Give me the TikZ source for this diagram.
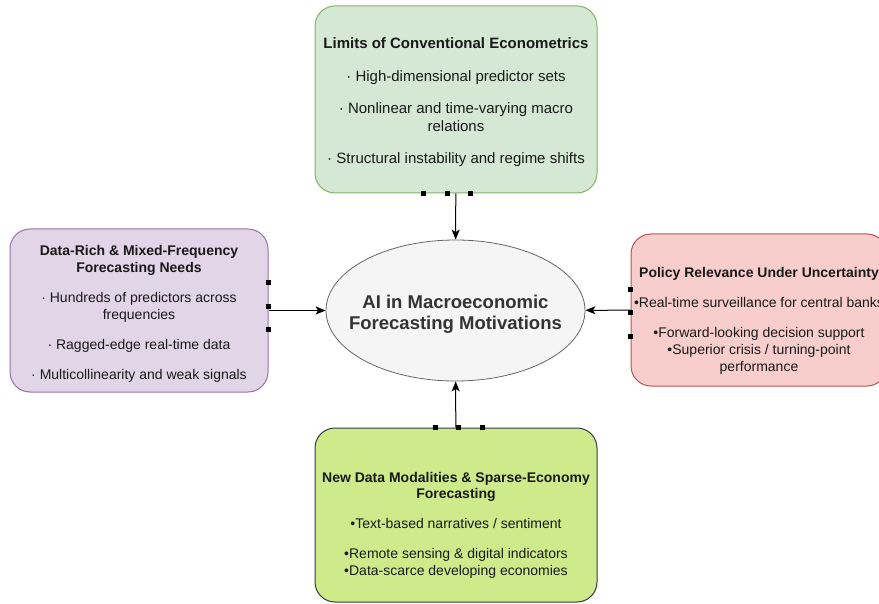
\documentclass[tikz,border=0pt]{standalone}
\usepackage{fontspec}
\setmainfont{Liberation Sans}
\usetikzlibrary{shapes.geometric, arrows.meta}

\definecolor{limitsfill}{HTML}{D5E8D4}
\definecolor{limitsdraw}{HTML}{82B366}
\definecolor{datafill}{HTML}{E1D5E7}
\definecolor{datadraw}{HTML}{9673A6}
\definecolor{policyfill}{HTML}{F8CECC}
\definecolor{policydraw}{HTML}{B85450}
\definecolor{modalfill}{HTML}{CDEB8B}
\definecolor{modaldraw}{HTML}{36393D}
\definecolor{corefill}{HTML}{F5F5F5}
\definecolor{coredraw}{HTML}{666666}
\definecolor{coretext}{HTML}{333333}

\begin{document}
\begin{tikzpicture}[x=1pt, y=-1pt, >={Stealth[length=10pt, width=8pt, inset=2.5pt]},
    font=\fontsize{14}{17}\selectfont,
    box/.style={draw, line width=1pt, rounded corners=20pt, inner sep=0pt},
    boxtext/.style={align=center, inner sep=0pt, text=black!90},
    handle/.style={fill=black, inner sep=0pt, minimum size=5pt},
    link/.style={->, line width=1pt}]

        \useasboundingbox (0,0) rectangle (879,604);
        \clip (0,0) rectangle (879,604);

        % Central Topic
        \node[draw=coredraw, fill=corefill, ellipse, line width=0.8pt,
              minimum width=259, minimum height=141, inner sep=0pt] (core) at (455.5,310.5) {};
        \node[boxtext, text=coretext,
              font=\fontsize{18.5}{21}\selectfont\bfseries] (core text) at (455.5,314.5)
              {AI in Macroeconomic\\Forecasting Motivations};

        % Top Box
        \node[box, draw=limitsdraw, fill=limitsfill,
              minimum width=282, minimum height=187] (limits) at (456,99.5) {};
        \node[boxtext, font=\fontsize{15}{18}\selectfont] (limits text) at (456,102)
              {\textbf{Limits of Conventional Econometrics}\\[15pt]
               · High-dimensional predictor sets\\[14pt]
               · Nonlinear and time-varying macro\\relations\\[14pt]
               · Structural instability and regime shifts};

        % Left Box
        \node[box, draw=datadraw, fill=datafill,
              minimum width=258, minimum height=163] (data) at (139,310.5) {};
        \node[boxtext] (data text) at (139,313.5)
              {\textbf{Data-Rich \& Mixed-Frequency}\\\textbf{Forecasting Needs}\\[13pt]
               · Hundreds of predictors across\\frequencies\\[13pt]
               · Ragged-edge real-time data\\[13pt]
               · Multicollinearity and weak signals};

        % Right Box
        \node[box, draw=policydraw, fill=policyfill,
              minimum width=256, minimum height=152] (policy) at (759,310) {};
        \node[boxtext] (policy text) at (759,320.5)
              {\textbf{Policy Relevance Under Uncertainty}\\[13pt]
               •Real-time surveillance for central banks\\[13pt]
               •Forward-looking decision support\\
               •Superior crisis / turning-point\\performance};

        % Bottom Box
        \node[box, draw=modaldraw, fill=modalfill,
              minimum width=282, minimum height=174] (modal) at (456,515) {};
        \node[boxtext] (modal text) at (456,525)
              {\textbf{New Data Modalities \& Sparse-Economy}\\[-1pt]\textbf{Forecasting}\\[13pt]
               •Text-based narratives / sentiment\\[13pt]
               •Remote sensing \& digital indicators\\
               •Data-scarce developing economies};

        % Connection handles
        \foreach \dx in {-33,-9,14}
            \node[handle] at ([xshift=\dx]limits.south) {};
        \foreach \dy in {-27.5,-3.5,19.5}
            \node[handle] at ([yshift=-\dy]data.east) {};
        \foreach \dy in {-20,3,27}
            \node[handle] at ([yshift=-\dy]policy.west) {};
        \foreach \dx in {-21,2,26}
            \node[handle] at ([xshift=\dx]modal.north) {};

        % Arrows
        \draw[link] (limits) -- (core);
        \draw[link] (data) -- (core);
        \draw[link] (policy) -- (core);
        \draw[link] (modal) -- (core);

    \end{tikzpicture}
\end{document}
